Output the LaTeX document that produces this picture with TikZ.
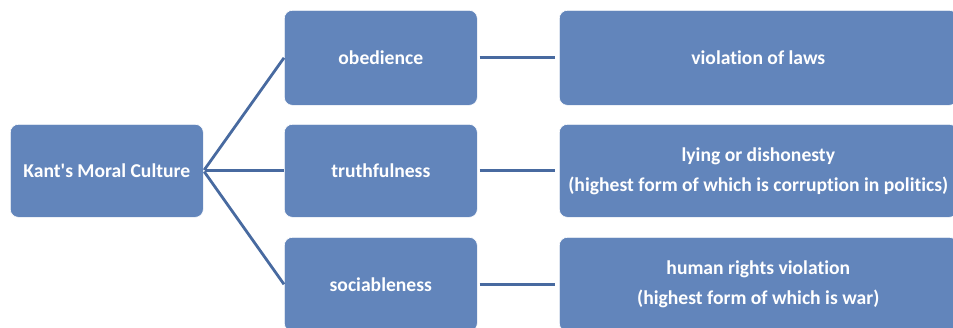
\documentclass[tikz,border=0pt]{standalone}
\usepackage{fontspec}
\setmainfont[Ligatures=NoCommon]{Carlito}
\begin{document}
\begin{tikzpicture}[x=1pt,y=-1pt,
  box/.style={draw=white, line width=0.6pt, fill=boxblue, rounded corners=8pt,
    text=white, font=\bfseries\fontsize{19.6}{30}\selectfont, align=center,
    inner sep=0pt, anchor=north west},
  link/.style={draw=lineblue, line width=2.8pt}]
\definecolor{boxblue}{RGB}{98,133,187}
\definecolor{lineblue}{RGB}{72,106,160}
\clip (0,0) rectangle (953,327);
\useasboundingbox (0,0) rectangle (953,327);
% root
\node[box, minimum width=193pt, minimum height=93pt] (K) at (10,124) {Kant\textquotesingle s Moral Culture};
% virtues
\node[box, minimum width=193pt, minimum height=95pt] (m1) at (284,10) {obedience};
\node[box, minimum width=193pt, minimum height=93pt] (m2) at (284,124) {truthfulness};
\node[box, minimum width=193pt, minimum height=94pt] (m3) at (284,237) {sociableness};
% vices
\node[box, minimum width=398pt, minimum height=95pt] (r1) at (559,10) {violation of laws};
\node[box, minimum width=398pt, minimum height=93pt] (r2) at (559,124) {lying or dishonesty\\(highest form of which is corruption in politics)};
\node[box, minimum width=398pt, minimum height=94pt] (r3) at (559,237) {human rights violation\\(highest form of which is war)};
% connectors
\foreach \m in {m1,m2,m3}
  \draw[link, shorten <=1pt] (K.east) -- (\m.west);
\draw[link, shorten <=2pt, shorten >=4pt] (m1.east) -- (r1.west);
\draw[link, shorten <=2pt, shorten >=4pt] (m2.east) -- (r2.west);
\draw[link, shorten <=2pt, shorten >=4pt] (m3.east) -- (r3.west);
\end{tikzpicture}
\end{document}
